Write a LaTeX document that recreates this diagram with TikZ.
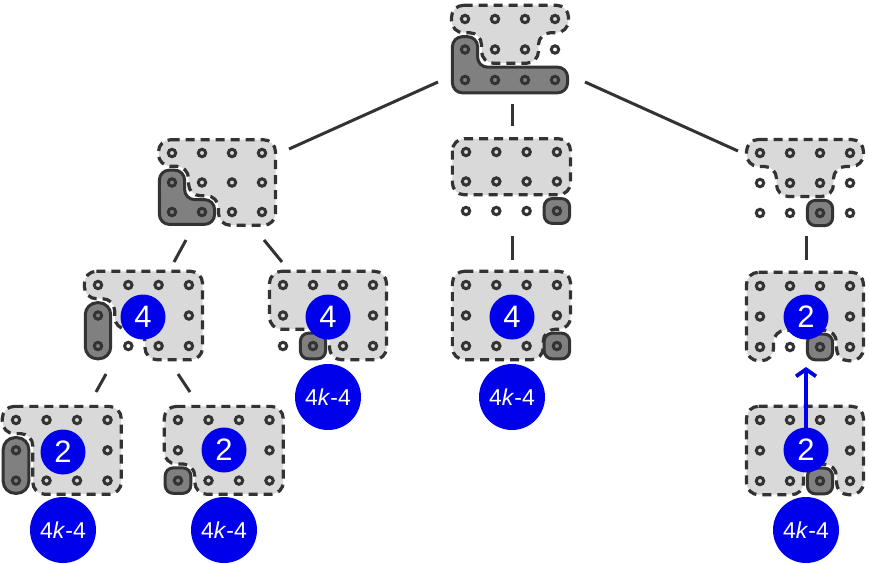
\documentclass[tikz,border=0pt]{standalone}
\usepackage{fontspec}
\setmainfont{Liberation Sans}
\usetikzlibrary{arrows.meta}
\definecolor{ink}{HTML}{333333}
\definecolor{lite}{HTML}{D9D9D9}
\definecolor{darkp}{HTML}{808080}
\definecolor{bl}{RGB}{0,0,235}
\def\mg{0.45}
\def\md{0.42}
\tikzset{
 region/.style={fill=lite, draw=ink, line width=3.2pt, dash pattern=on 9pt off 6pt, rounded corners=12pt},
 piece/.style={fill=darkp, draw=ink, line width=3pt, rounded corners=8pt},
 dotring/.style={draw=ink, line width=3pt},
 edgeline/.style={draw=ink, line width=3pt},
 numsmall/.style={circle, fill=bl, text=white, minimum size=45pt, inner sep=0pt, font=\fontsize{31}{31}\selectfont},
 numbig/.style={circle, fill=bl, text=white, minimum size=66pt, inner sep=0pt, font=\fontsize{23}{23}\selectfont},
 arrowline/.style={draw=bl, line width=3.8pt, -{Straight Barb[length=7pt,width=20pt]}},
}
\newcommand\griddots{\foreach \cc in {0,...,3}{\foreach \rr in {0,1,2}{\draw[dotring] (\cc,\rr) circle[radius=3.7pt];}}}
\begin{document}
\begin{tikzpicture}[x=1pt,y=-1pt]
\useasboundingbox (0,0) rectangle (869,563);
% ---------- top
\begin{scope}[shift={(465,19)},x=30pt,y=-30.5pt]
\draw[region] (-\mg,-\mg) -- (3+\mg,-\mg) -- (3+\mg,\mg) -- (2+\mg,\mg) -- (2+\mg,1+\mg) -- (1-\mg,1+\mg) -- (1-\mg,\mg) -- (-\mg,\mg) -- cycle;
\draw[piece, rounded corners=10pt] (-\md,1-\md) -- (\md,1-\md) -- (\md,2-\md) -- (3+\md,2-\md) -- (3+\md,2+\md) -- (-\md,2+\md) -- cycle;
\griddots
\end{scope}
% ---------- level 1 left
\begin{scope}[shift={(172,153)},x=30pt,y=-29.5pt]
\draw[region] (-\mg,-\mg) -- (3+\mg,-\mg) -- (3+\mg,2+\mg) -- (2-\mg,2+\mg) -- (2-\mg,1+\mg) -- (1-\mg,1+\mg) -- (1-\mg,\mg) -- (-\mg,\mg) -- cycle;
\draw[piece, rounded corners=10pt] (-\md,1-\md) -- (\md,1-\md) -- (\md,2-\md) -- (1+\md,2-\md) -- (1+\md,2+\md) -- (-\md,2+\md) -- cycle;
\griddots
\end{scope}
% ---------- level 1 middle
\begin{scope}[shift={(466,152)},x=30.3pt,y=-29.5pt]
\draw[region] (-\mg,-\mg) rectangle (3+\mg,1+\mg);
\draw[piece] (3-\md,2-\md) rectangle (3+\md,2+\md);
\griddots
\end{scope}
% ---------- level 1 right
\begin{scope}[shift={(760,153)},x=30pt,y=-30pt]
\draw[region] (-\mg,-\mg) -- (3+\mg,-\mg) -- (3+\mg,\mg) -- (2+\mg,\mg) -- (2+\mg,1+\mg) -- (1-\mg,1+\mg) -- (1-\mg,\mg) -- (-\mg,\mg) -- cycle;
\draw[piece] (2-\md,2-\md) rectangle (2+\md,2+\md);
\griddots
\end{scope}
% ---------- level 2 a
\begin{scope}[shift={(98,285)},x=30.3pt,y=-30.5pt]
\draw[region] (-\mg,-\mg) -- (3+\mg,-\mg) -- (3+\mg,2+\mg) -- (2-\mg,2+\mg) -- (2-\mg,1+\mg) -- (1-\mg,1+\mg) -- (1-\mg,\mg) -- (-\mg,\mg) -- cycle;
\draw[piece, rounded corners=12pt] (-\md,1-\md) rectangle (\md,2+\md);
\griddots
\end{scope}
% ---------- level 2 b
\begin{scope}[shift={(283,285)},x=30pt,y=-30.5pt]
\draw[region] (-\mg,-\mg) -- (3+\mg,-\mg) -- (3+\mg,2+\mg) -- (2-\mg,2+\mg) -- (2-\mg,1+\mg) -- (-\mg,1+\mg) -- cycle;
\draw[piece] (1-\md,2-\md) rectangle (1+\md,2+\md);
\griddots
\end{scope}
% ---------- level 2 middle
\begin{scope}[shift={(466,285)},x=30.3pt,y=-30.5pt]
\draw[region] (-\mg,-\mg) -- (3+\mg,-\mg) -- (3+\mg,1+\mg) -- (3-\mg,1+\mg) -- (3-\mg,2+\mg) -- (-\mg,2+\mg) -- cycle;
\draw[piece] (3-\md,2-\md) rectangle (3+\md,2+\md);
\griddots
\end{scope}
% ---------- level 2 right
\begin{scope}[shift={(760,286)},x=30pt,y=-30.5pt]
\draw[region] (-\mg,-\mg) -- (3+\mg,-\mg) -- (3+\mg,2+\mg) -- (3-\mg,2+\mg) -- (3-\mg,1+\mg) -- (\mg,1+\mg) -- (\mg,2+\mg) -- (-\mg,2+\mg) -- cycle;
\draw[piece] (2-\md,2-\md) rectangle (2+\md,2+\md);
\griddots
\end{scope}
% ---------- level 3 a
\begin{scope}[shift={(16,420)},x=30.5pt,y=-30.3pt]
\draw[region] (-\mg,-\mg) -- (3+\mg,-\mg) -- (3+\mg,2+\mg) -- (1-\mg,2+\mg) -- (1-\mg,\mg) -- (-\mg,\mg) -- cycle;
\draw[piece, rounded corners=12pt] (-\md,1-\md) rectangle (\md,2+\md);
\griddots
\end{scope}
% ---------- level 3 b
\begin{scope}[shift={(178,420)},x=30.5pt,y=-30.3pt]
\draw[region] (-\mg,-\mg) -- (3+\mg,-\mg) -- (3+\mg,2+\mg) -- (1-\mg,2+\mg) -- (1-\mg,1+\mg) -- (-\mg,1+\mg) -- cycle;
\draw[piece] (-\md,2-\md) rectangle (\md,2+\md);
\griddots
\end{scope}
% ---------- level 3 right
\begin{scope}[shift={(760,420)},x=30pt,y=-30.5pt]
\draw[region] (-\mg,-\mg) -- (3+\mg,-\mg) -- (3+\mg,2+\mg) -- (3-\mg,2+\mg) -- (3-\mg,1+\mg) -- (1+\mg,1+\mg) -- (1+\mg,2+\mg) -- (-\mg,2+\mg) -- cycle;
\draw[piece] (2-\md,2-\md) rectangle (2+\md,2+\md);
\griddots
\end{scope}
% ---------- connectors
\coordinate (T-l) at (438,82);   \coordinate (L1-t) at (289,149);
\coordinate (T-b) at (512,104);  \coordinate (M1-t) at (512,126);
\coordinate (T-r) at (585,82);   \coordinate (R1-t) at (738,151);
\coordinate (L1-bl) at (186,240); \coordinate (L2a-t) at (174,262);
\coordinate (L1-br) at (264,240); \coordinate (L2b-t) at (282,262);
\coordinate (M1-b) at (512,236); \coordinate (M2-t) at (512,260);
\coordinate (R1-b) at (806,236); \coordinate (R2-t) at (806,260);
\coordinate (L2a-bl) at (106,374); \coordinate (L3a-t) at (96,392);
\coordinate (L2a-br) at (178,374); \coordinate (L3b-t) at (190,392);
\draw[edgeline] (T-l) -- (L1-t);
\draw[edgeline] (T-b) -- (M1-t);
\draw[edgeline] (T-r) -- (R1-t);
\draw[edgeline] (L1-bl) -- (L2a-t);
\draw[edgeline] (L1-br) -- (L2b-t);
\draw[edgeline] (M1-b) -- (M2-t);
\draw[edgeline] (R1-b) -- (R2-t);
\draw[edgeline] (L2a-bl) -- (L3a-t);
\draw[edgeline] (L2a-br) -- (L3b-t);
% ---------- numbers
\node[numsmall] (n2a) at (143,317) {4};
\node[numsmall] (n2b) at (328,317) {4};
\node[numbig]   (k2b) at (328,397) {4\textit{k}-4};
\node[numsmall] (n2m) at (512,317) {4};
\node[numbig]   (k2m) at (512,397) {4\textit{k}-4};
\node[numsmall] (n2r) at (806,317) {2};
\node[numsmall] (n3a) at (63,452) {2};
\node[numbig]   (k3a) at (63,530) {4\textit{k}-4};
\node[numsmall] (n3b) at (224,450) {2};
\node[numbig]   (k3b) at (224,530) {4\textit{k}-4};
\node[numbig]   (k3r) at (806,530) {4\textit{k}-4};
\coordinate (tipR) at (806,367);
\draw[arrowline] (806,440) -- (tipR);
\node[numsmall] (n3r) at (806,450) {2};
\end{tikzpicture}
\end{document}
